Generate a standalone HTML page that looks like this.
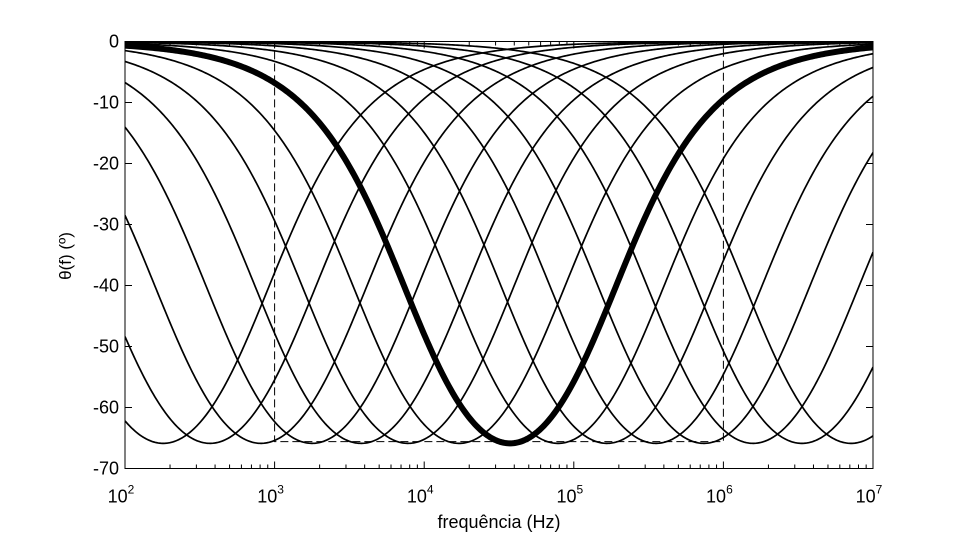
<!DOCTYPE html>
<html><head><meta charset="utf-8">
<style>
html,body{margin:0;padding:0;background:#fff;}
svg{display:block;font-family:"Liberation Sans",sans-serif;}
</style></head>
<body>
<svg id="chart" width="965" height="536" viewBox="0 0 965 536" xmlns="http://www.w3.org/2000/svg">
<defs><clipPath id="plotclip"><rect x="125" y="41" width="748" height="427"/></clipPath></defs>
<g id="curves" clip-path="url(#plotclip)"></g>
<g id="axes"></g>
<text x="499" y="528" font-size="18" text-anchor="middle">frequência (Hz)</text>
<text transform="translate(71,256) rotate(-90)" font-size="17" text-anchor="middle">θ(f) (º)</text>
</svg>
<script>
// data
const centerFreqs = [180, 370, 810, 1780, 3780, 7800, 17100, 37500, 78400, 166700, 354000, 741000, 1580000, 3350000, 7130000];
const highlightFreq = 37500;
const sepRatio = 4.68;
const yTicks = [0, -10, -20, -30, -40, -50, -60, -70];
const xDecades = [2, 3, 4, 5, 6, 7];
const boxFreqs = [1000, 1000000];
const boxMin = -65.6;

const X0 = 125, X1 = 873, Y0 = 41.5, Y1 = 468.5;
const xs = f => X0 + (Math.log10(f) - 2) / 5 * (X1 - X0);
const ys = v => Y0 + (0 - v) / 70 * (Y1 - Y0);
const NS = 'http://www.w3.org/2000/svg';
const mk = (tag, attrs, parent) => { const e = document.createElementNS(NS, tag); for (const k in attrs) e.setAttribute(k, attrs[k]); parent.appendChild(e); return e; };
const phase = (f, fc) => (Math.atan(f / (fc * sepRatio)) - Math.atan(f / (fc / sepRatio))) * 180 / Math.PI;

const curves = document.getElementById('curves');
const axes = document.getElementById('axes');

const bx = mk('rect', {x: xs(boxFreqs[0]), y: ys(0), width: xs(boxFreqs[1]) - xs(boxFreqs[0]), height: ys(boxMin) - ys(0), fill: 'none', stroke: '#000', 'stroke-width': 1, 'stroke-dasharray': '8,4'}, curves);



function curvePath(fc) {
  let d = '';
  for (let i = 0; i <= 500; i++) {
    const lf = 2 + 5 * i / 500, f = Math.pow(10, lf);
    d += (i ? 'L' : 'M') + xs(f).toFixed(2) + ',' + ys(phase(f, fc)).toFixed(2);
  }
  return d;
}
centerFreqs.forEach((fc, i) => {
  if (fc === highlightFreq) return;
  const p = mk('path', {d: curvePath(fc), fill: 'none', stroke: '#000', 'stroke-width': 1.7}, curves);
  
  
});
const th = mk('path', {d: curvePath(highlightFreq), fill: 'none', stroke: '#000', 'stroke-width': 6}, curves);



const fr = mk('rect', {x: X0, y: Y0, width: X1 - X0, height: Y1 - Y0, fill: 'none', stroke: '#000', 'stroke-width': 1}, axes);



yTicks.forEach(v => {
  const y = ys(v);
  mk('line', {x1: X0, x2: X0 + 7, y1: y, y2: y, stroke: '#000'}, axes);
  mk('line', {x1: X1, x2: X1 - 7, y1: y, y2: y, stroke: '#000'}, axes);
  const t = mk('text', {x: X0 - 6, y: y + 6, 'font-size': 18, 'text-anchor': 'end'}, axes);
  t.textContent = String(v);
  
  
});

xDecades.forEach((dec, i) => {
  const x = xs(Math.pow(10, dec));
  mk('line', {x1: x, x2: x, y1: Y1, y2: Y1 - 7, stroke: '#000'}, axes);
  mk('line', {x1: x, x2: x, y1: Y0, y2: Y0 + 7, stroke: '#000'}, axes);
  const t = mk('text', {x: x - 4, y: Y1 + 34, 'font-size': 18, 'text-anchor': 'middle'}, axes);
  
  
  t.appendChild(document.createTextNode('10'));
  const s = mk('tspan', {'font-size': 12, dy: -9}, t);
  s.textContent = String(dec);
  if (i < xDecades.length - 1) {
    for (let m = 2; m <= 9; m++) {
      const xm = xs(m * Math.pow(10, dec));
      mk('line', {x1: xm, x2: xm, y1: Y1, y2: Y1 - 4, stroke: '#000'}, axes);
      mk('line', {x1: xm, x2: xm, y1: Y0, y2: Y0 + 4, stroke: '#000'}, axes);
    }
  }
});
</script>
</body></html>
